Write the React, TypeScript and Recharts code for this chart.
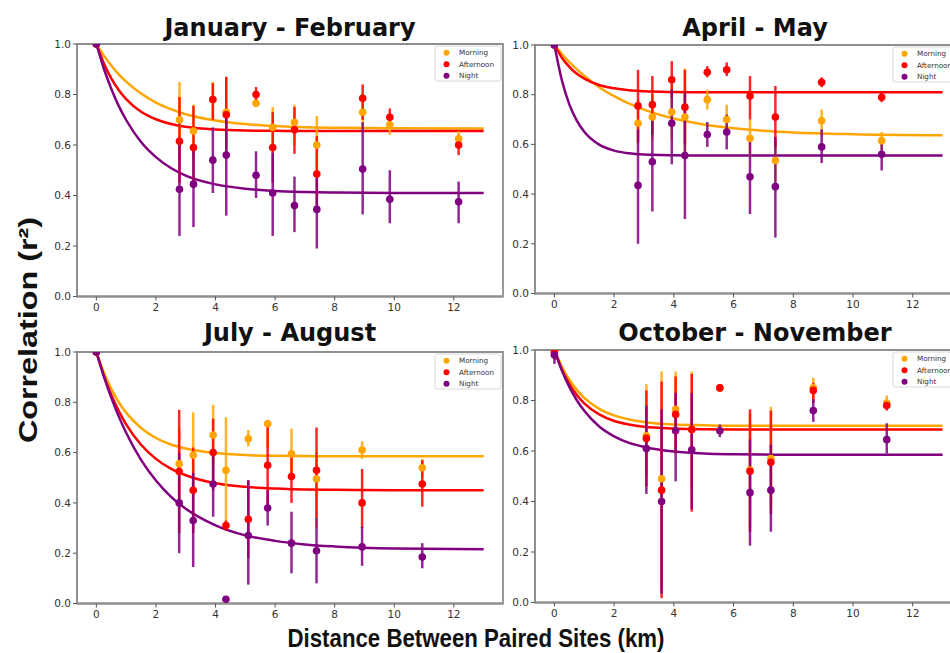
import React from 'react';
import { ComposedChart, Line, Scatter, ErrorBar, XAxis, YAxis, ReferenceArea } from 'recharts';

const seriesNames = ['Morning', 'Afternoon', 'Night'];
const seriesColors = ['#ffa500', '#ff0000', '#800080'];
const xTicks = [0, 2, 4, 6, 8, 10, 12];
const yTicks = [0, 0.2, 0.4, 0.6, 0.8, 1.0];
const panelTitles = ['January - February', 'April - May', 'July - August', 'October - November'];
const xAxisTitle = 'Distance Between Paired Sites (km)';
const yAxisTitle = 'Correlation (r²)';

// fitted curves
const curveX = [0, 0.25, 0.5, 0.75, 1, 1.5, 2, 2.5, 3, 4, 5, 6, 7, 8, 10, 13];

const janFebMorningCurve = [1.0, 0.954, 0.915, 0.88, 0.851, 0.804, 0.768, 0.742, 0.722, 0.697, 0.683, 0.675, 0.67, 0.668, 0.666, 0.665];
const janFebAfternoonCurve = [1.0, 0.924, 0.864, 0.818, 0.782, 0.732, 0.702, 0.683, 0.672, 0.661, 0.657, 0.656, 0.655, 0.655, 0.655, 0.655];
const janFebNightCurve = [1.0, 0.903, 0.823, 0.755, 0.699, 0.612, 0.552, 0.509, 0.479, 0.444, 0.427, 0.418, 0.414, 0.412, 0.41, 0.41];

const aprMayMorningCurve = [1.0, 0.964, 0.931, 0.902, 0.876, 0.83, 0.794, 0.764, 0.74, 0.704, 0.68, 0.665, 0.655, 0.648, 0.641, 0.637];
const aprMayAfternoonCurve = [1.0, 0.949, 0.912, 0.884, 0.865, 0.839, 0.826, 0.818, 0.814, 0.811, 0.81, 0.81, 0.81, 0.81, 0.81, 0.81];
const aprMayNightCurve = [1.0, 0.858, 0.761, 0.696, 0.651, 0.599, 0.575, 0.564, 0.559, 0.556, 0.555, 0.555, 0.555, 0.555, 0.555, 0.555];

const julAugMorningCurve = [1.0, 0.919, 0.854, 0.801, 0.759, 0.698, 0.658, 0.632, 0.616, 0.598, 0.59, 0.587, 0.586, 0.585, 0.585, 0.585];
const julAugAfternoonCurve = [1.0, 0.907, 0.83, 0.766, 0.712, 0.631, 0.575, 0.536, 0.51, 0.478, 0.464, 0.457, 0.453, 0.452, 0.45, 0.45];
const julAugNightCurve = [1.0, 0.903, 0.819, 0.744, 0.679, 0.571, 0.489, 0.425, 0.377, 0.311, 0.271, 0.249, 0.235, 0.227, 0.219, 0.216];

const octNovMorningCurve = [1.0, 0.934, 0.882, 0.842, 0.81, 0.767, 0.741, 0.725, 0.715, 0.705, 0.702, 0.7, 0.7, 0.7, 0.7, 0.7];
const octNovAfternoonCurve = [1.0, 0.923, 0.866, 0.822, 0.789, 0.745, 0.719, 0.705, 0.696, 0.689, 0.686, 0.685, 0.685, 0.685, 0.685, 0.685];
const octNovNightCurve = [1.0, 0.919, 0.854, 0.801, 0.759, 0.697, 0.658, 0.632, 0.616, 0.598, 0.59, 0.587, 0.586, 0.585, 0.585, 0.585];

// January - February
const janFebX = [0, 2.79, 3.26, 3.91, 4.36, 5.36, 5.92, 6.65, 7.4, 8.94, 9.85, 12.16];
const janFebMorningY = [1.0, 0.7, 0.655, 0.78, 0.73, 0.765, 0.67, 0.69, 0.6, 0.73, 0.68, 0.625];
const janFebMorningLo = [1.0, 0.55, 0.55, 0.7, 0.6, 0.75, 0.59, 0.6, 0.48, 0.67, 0.64, 0.59];
const janFebMorningHi = [1.0, 0.85, 0.76, 0.85, 0.87, 0.79, 0.75, 0.76, 0.715, 0.8, 0.72, 0.655];
const janFebAfternoonY = [1.0, 0.615, 0.59, 0.78, 0.72, 0.8, 0.59, 0.66, 0.485, 0.785, 0.71, 0.6];
const janFebAfternoonLo = [1.0, 0.45, 0.45, 0.7, 0.57, 0.77, 0.45, 0.565, 0.34, 0.7, 0.68, 0.56];
const janFebAfternoonHi = [1.0, 0.79, 0.755, 0.845, 0.87, 0.83, 0.73, 0.75, 0.635, 0.84, 0.745, 0.64];
const janFebNightY = [1.0, 0.425, 0.445, 0.54, 0.56, 0.48, 0.41, 0.36, 0.345, 0.505, 0.385, 0.375];
const janFebNightLo = [1.0, 0.24, 0.275, 0.41, 0.32, 0.39, 0.24, 0.255, 0.19, 0.325, 0.29, 0.29];
const janFebNightHi = [1.0, 0.62, 0.6, 0.67, 0.72, 0.575, 0.57, 0.475, 0.49, 0.69, 0.5, 0.455];

// April - May
const aprMayX = [0, 2.8, 3.28, 3.93, 4.37, 5.12, 5.77, 6.55, 7.4, 8.95, 10.96];
const aprMayMorningY = [1.0, 0.685, 0.71, 0.73, 0.71, 0.78, 0.7, 0.625, 0.535, 0.695, 0.615];
const aprMayMorningLo = [1.0, 0.6, 0.62, 0.62, 0.55, 0.74, 0.64, 0.55, 0.45, 0.65, 0.58];
const aprMayMorningHi = [1.0, 0.78, 0.8, 0.84, 0.905, 0.82, 0.76, 0.7, 0.62, 0.74, 0.65];
const aprMayAfternoonY = [1.0, 0.755, 0.76, 0.86, 0.75, 0.89, 0.9, 0.795, 0.71, 0.85, 0.79];
const aprMayAfternoonLo = [1.0, 0.61, 0.64, 0.79, 0.6, 0.87, 0.875, 0.7, 0.59, 0.83, 0.77];
const aprMayAfternoonHi = [1.0, 0.9, 0.875, 0.935, 0.9, 0.915, 0.93, 0.875, 0.835, 0.87, 0.81];
const aprMayNightY = [1.0, 0.435, 0.53, 0.685, 0.555, 0.64, 0.65, 0.47, 0.43, 0.59, 0.56];
const aprMayNightLo = [1.0, 0.2, 0.33, 0.52, 0.3, 0.59, 0.58, 0.32, 0.225, 0.525, 0.495];
const aprMayNightHi = [1.0, 0.66, 0.72, 0.82, 0.81, 0.69, 0.72, 0.61, 0.63, 0.66, 0.62];

// July - August
const julAugX = [0, 2.78, 3.25, 3.92, 4.35, 5.1, 5.75, 6.55, 7.39, 8.92, 10.94];
const julAugMorningY = [1.0, 0.555, 0.59, 0.67, 0.53, 0.655, 0.715, 0.595, 0.495, 0.61, 0.54];
const julAugMorningLo = [1.0, 0.4, 0.42, 0.55, 0.3, 0.625, 0.62, 0.5, 0.3, 0.575, 0.5];
const julAugMorningHi = [1.0, 0.7, 0.76, 0.79, 0.74, 0.69, 0.72, 0.695, 0.6, 0.645, 0.575];
const julAugAfternoonY = [1.0, 0.525, 0.45, 0.6, 0.31, 0.335, 0.55, 0.505, 0.53, 0.4, 0.475];
const julAugAfternoonLo = [1.0, 0.28, 0.28, 0.45, 0.29, 0.18, 0.39, 0.4, 0.34, 0.3, 0.385];
const julAugAfternoonHi = [1.0, 0.77, 0.62, 0.735, 0.33, 0.49, 0.73, 0.6, 0.7, 0.535, 0.57];
const julAugNightY = [1.0, 0.4, 0.33, 0.475, 0.017, 0.27, 0.38, 0.24, 0.21, 0.225, 0.185];
const julAugNightLo = [1.0, 0.2, 0.145, 0.345, 0.017, 0.075, 0.31, 0.12, 0.08, 0.15, 0.14];
const julAugNightHi = [1.0, 0.6, 0.52, 0.6, 0.017, 0.49, 0.45, 0.365, 0.34, 0.305, 0.24];

// October - November
const octNovX = [0, 3.08, 3.59, 4.06, 4.6, 5.54, 6.55, 7.25, 8.67, 11.13];
const octNovMorningY = [0.995, 0.66, 0.49, 0.765, 0.685, 0.85, 0.525, 0.57, 0.85, 0.79];
const octNovMorningLo = [0.97, 0.5, 0.06, 0.6, 0.45, 0.835, 0.3, 0.38, 0.8, 0.765];
const octNovMorningHi = [1.0, 0.865, 0.915, 0.915, 0.915, 0.865, 0.75, 0.775, 0.89, 0.82];
const octNovAfternoonY = [0.99, 0.65, 0.445, 0.745, 0.685, 0.85, 0.52, 0.555, 0.84, 0.78];
const octNovAfternoonLo = [0.96, 0.46, 0.017, 0.59, 0.36, 0.835, 0.28, 0.35, 0.79, 0.76];
const octNovAfternoonHi = [1.0, 0.84, 0.875, 0.895, 0.905, 0.86, 0.765, 0.76, 0.87, 0.8];
const octNovNightY = [0.98, 0.61, 0.4, 0.68, 0.605, 0.68, 0.435, 0.445, 0.76, 0.645];
const octNovNightLo = [0.945, 0.43, 0.035, 0.48, 0.37, 0.655, 0.225, 0.28, 0.715, 0.59];
const octNovNightHi = [1.0, 0.78, 0.765, 0.83, 0.83, 0.705, 0.645, 0.625, 0.805, 0.71];

type Pt = { x: number; y: number; err: [number, number] };

function buildPoints(xs: number[], ys: number[], lo: number[], hi: number[]): Pt[] {
  return xs.map((x, i) => ({
    x,
    y: ys[i],
    err: [Math.max(0, ys[i] - lo[i]), Math.max(0, hi[i] - ys[i])] as [number, number],
  }));
}
function buildCurve(ys: number[]) {
  return curveX.map((x, i) => ({ x, y: ys[i] }));
}

const layout = [
  { left: 77, top: 44, width: 426, height: 252.5, titleX: 290, titleY: 36 },
  { left: 535, top: 45, width: 427, height: 248.5, titleX: 755, titleY: 36 },
  { left: 77, top: 352, width: 426, height: 251.5, titleX: 290, titleY: 341 },
  { left: 535, top: 350, width: 427, height: 252.5, titleX: 755, titleY: 341 },
];

const panels = [
  {
    title: panelTitles[0],
    series: [
      { pts: buildPoints(janFebX, janFebMorningY, janFebMorningLo, janFebMorningHi), curve: buildCurve(janFebMorningCurve) },
      { pts: buildPoints(janFebX, janFebAfternoonY, janFebAfternoonLo, janFebAfternoonHi), curve: buildCurve(janFebAfternoonCurve) },
      { pts: buildPoints(janFebX, janFebNightY, janFebNightLo, janFebNightHi), curve: buildCurve(janFebNightCurve) },
    ],
  },
  {
    title: panelTitles[1],
    series: [
      { pts: buildPoints(aprMayX, aprMayMorningY, aprMayMorningLo, aprMayMorningHi), curve: buildCurve(aprMayMorningCurve) },
      { pts: buildPoints(aprMayX, aprMayAfternoonY, aprMayAfternoonLo, aprMayAfternoonHi), curve: buildCurve(aprMayAfternoonCurve) },
      { pts: buildPoints(aprMayX, aprMayNightY, aprMayNightLo, aprMayNightHi), curve: buildCurve(aprMayNightCurve) },
    ],
  },
  {
    title: panelTitles[2],
    series: [
      { pts: buildPoints(julAugX, julAugMorningY, julAugMorningLo, julAugMorningHi), curve: buildCurve(julAugMorningCurve) },
      { pts: buildPoints(julAugX, julAugAfternoonY, julAugAfternoonLo, julAugAfternoonHi), curve: buildCurve(julAugAfternoonCurve) },
      { pts: buildPoints(julAugX, julAugNightY, julAugNightLo, julAugNightHi), curve: buildCurve(julAugNightCurve) },
    ],
  },
  {
    title: panelTitles[3],
    series: [
      { pts: buildPoints(octNovX, octNovMorningY, octNovMorningLo, octNovMorningHi), curve: buildCurve(octNovMorningCurve) },
      { pts: buildPoints(octNovX, octNovAfternoonY, octNovAfternoonLo, octNovAfternoonHi), curve: buildCurve(octNovAfternoonCurve) },
      { pts: buildPoints(octNovX, octNovNightY, octNovNightLo, octNovNightHi), curve: buildCurve(octNovNightCurve) },
    ],
  },
];

const Y_AXIS_W = 45;
const M_TOP = 10;
const M_RIGHT = 10;
const X_AXIS_H = 30;
const tickStyle = { fontSize: 10.5, fill: '#333', fontFamily: 'DejaVu Sans' };
const frameColor = '#8f8f8f';

function Panel({ idx }: { idx: number }) {
  const box = layout[idx];
  const panel = panels[idx];
  return (
    <div style={{ position: 'absolute', left: box.left - Y_AXIS_W, top: box.top - M_TOP }}>
      <ComposedChart
        width={Y_AXIS_W + box.width + M_RIGHT}
        height={M_TOP + box.height + X_AXIS_H}
        margin={{ top: M_TOP, right: M_RIGHT, bottom: 0, left: 0 }}
      >
        <XAxis
          type="number"
          dataKey="x"
          domain={[-0.65, 13.65]}
          ticks={xTicks}
          interval={0}
          allowDataOverflow
          axisLine={{ stroke: frameColor, strokeWidth: 1.8 }}
          tickLine={{ stroke: '#555' }}
          tickSize={4}
          tickMargin={3}
          height={X_AXIS_H}
          tick={tickStyle}
        />
        <YAxis
          type="number"
          domain={[0, 1]}
          ticks={yTicks}
          interval={0}
          allowDataOverflow
          axisLine={{ stroke: frameColor, strokeWidth: 1.8 }}
          tickLine={{ stroke: '#555' }}
          tickSize={4}
          tickMargin={2}
          width={Y_AXIS_W}
          tick={tickStyle}
          tickFormatter={(v: number) => v.toFixed(1)}
        />
        <ReferenceArea
          x1={-0.65}
          x2={13.65}
          y1={0}
          y2={1}
          fill="#ffffff"
          fillOpacity={0}
          stroke={frameColor}
          strokeOpacity={1}
          strokeWidth={1.8}
          ifOverflow="visible"
        />
        {panel.series.map((s, i) => (
          <Line
            key={'l' + i}
            data={s.curve}
            dataKey="y"
            type="monotone"
            stroke={seriesColors[i]}
            strokeWidth={2.5}
            dot={false}
            activeDot={false}
            isAnimationActive={false}
          />
        ))}
        {panel.series.map((s, i) => (
          <Scatter
            key={'s' + i}
            data={s.pts}
            dataKey="y"
            fill={seriesColors[i]}
            isAnimationActive={false}
            shape={(p: any) => <circle cx={p.cx} cy={p.cy} r={3.8} fill={seriesColors[i]} />}
          >
            <ErrorBar dataKey="err" direction="y" width={0} stroke={seriesColors[i]} strokeWidth={2.5} strokeOpacity={0.85} isAnimationActive={false} />
          </Scatter>
        ))}
      </ComposedChart>
    </div>
  );
}

function Overlay() {
  return (
    <svg width={950} height={653} style={{ position: 'absolute', left: 0, top: 0, pointerEvents: 'none' }}>
      {layout.map((b, i) => (
        <text
          key={'t' + i}
          x={b.titleX}
          y={b.titleY}
          textAnchor="middle"
          fontFamily="DejaVu Sans"
          fontWeight="bold"
          fontSize={24}
          fill="#111"
        >
          {panelTitles[i]}
        </text>
      ))}
      {layout.map((b, i) => {
        const lx = b.left + 358;
        const ly = b.top + 2;
        return (
          <g key={'lg' + i}>
            <rect x={lx} y={ly} width={66} height={35} rx={2.5} fill="#fff" fillOpacity={0.85} stroke="#d8d8d8" strokeWidth={1} />
            {seriesNames.map((n, k) => (
              <g key={n}>
                <circle cx={lx + 11.5} cy={ly + 6.8 + k * 11.5} r={3} fill={seriesColors[k]} />
                <text x={lx + 24} y={ly + 6.8 + k * 11.5 + 2.5} fontFamily="DejaVu Sans" fontSize={7.2} fill="#333">
                  {n}
                </text>
              </g>
            ))}
          </g>
        );
      })}
      <text
        x={476}
        y={647}
        textAnchor="middle"
        fontFamily="Liberation Sans"
        fontWeight="bold"
        fontSize={26}
        fill="#111"
        textLength={377}
        lengthAdjust="spacingAndGlyphs"
      >
        {xAxisTitle}
      </text>
      <text
        transform="translate(37,330) rotate(-90)"
        textAnchor="middle"
        fontFamily="Liberation Sans"
        fontWeight="bold"
        fontSize={26}
        fill="#111"
        textLength={226}
        lengthAdjust="spacingAndGlyphs"
      >
        {yAxisTitle}
      </text>
    </svg>
  );
}

export default function App() {
  return (
    <div style={{ position: 'absolute', left: 0, top: 0, width: 950, height: 653, overflow: 'hidden', background: '#fff' }}>
      {layout.map((_, i) => (
        <Panel key={i} idx={i} />
      ))}
      <Overlay />
    </div>
  );
}
